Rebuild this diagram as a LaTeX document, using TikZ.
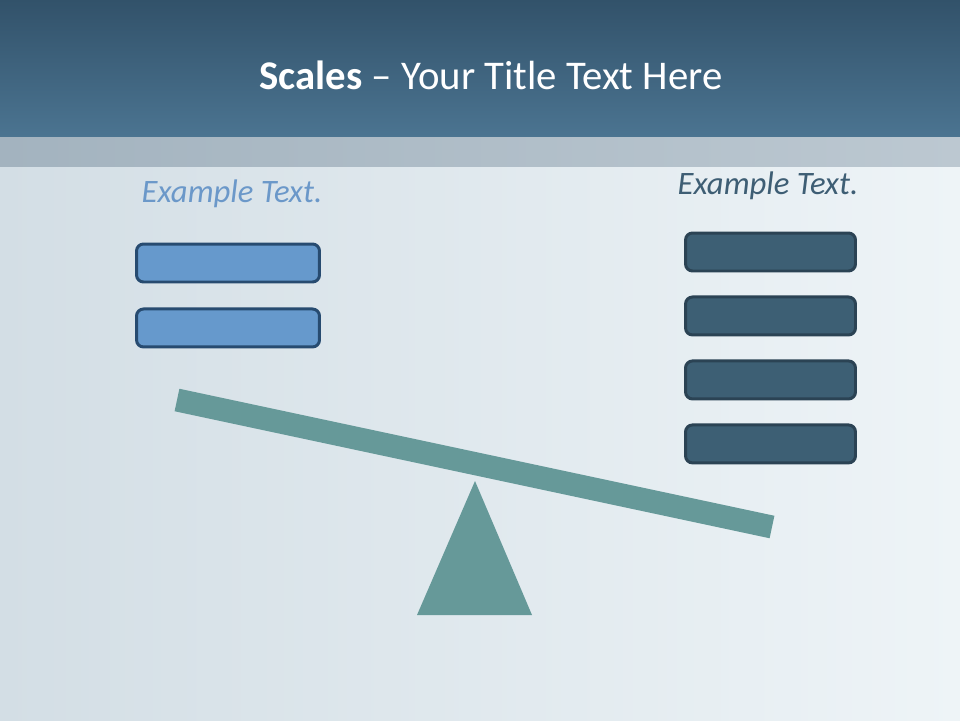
\documentclass[tikz,border=0pt]{standalone}
\usepackage{fontspec}
\setmainfont{Carlito}
\usetikzlibrary{positioning}

\definecolor{topdark}{HTML}{32526A}
\definecolor{toplight}{HTML}{4B7491}
\definecolor{greyl}{HTML}{A3B3BF}
\definecolor{greyr}{HTML}{BCC8D1}
\definecolor{bgleft}{HTML}{D3DEE5}
\definecolor{bgright}{HTML}{EEF4F7}
\definecolor{beamcol}{HTML}{669999}
\definecolor{lfill}{HTML}{6699CC}
\definecolor{ledge}{HTML}{274B70}
\definecolor{rfill}{HTML}{3D5F74}
\definecolor{redge}{HTML}{2B4354}
\definecolor{ltxt}{HTML}{6B98C9}
\definecolor{rtxt}{HTML}{3E5E74}

\tikzset{
  lbox/.style={draw=ledge, fill=lfill, line width=1.7pt, rounded corners=0.14cm,
    minimum width=3.66cm, minimum height=0.76cm, inner sep=0pt},
  rbox/.style={draw=redge, fill=rfill, line width=1.7pt, rounded corners=0.14cm,
    minimum width=3.4cm, minimum height=0.76cm, inner sep=0pt},
  sidetext/.style={font=\fontsize{18.6}{22}\selectfont\itshape, inner sep=0pt},
}

\begin{document}
\begin{tikzpicture}[x=0.02cm, y=-0.02cm]
        \useasboundingbox (0,0) rectangle (960,720);

        \shade[left color=bgleft, right color=bgright] (0,137) rectangle (960,720);
        \shade[top color=topdark, bottom color=toplight] (0,0) rectangle (960,137);
        \shade[left color=greyl, right color=greyr] (0,137) rectangle (960,166);

        \node[text=white, font=\fontsize{23.2}{28}\selectfont] (title) at (491,75)
            {\textbf{Scales} -- Your Title Text Here};

        \node[sidetext, text=ltxt] (lt) at (232,194) {Example Text.};
        \node[sidetext, text=rtxt] (rt) at (768,186) {Example Text.};

        \node[lbox] (l1) at (228,263) {};
        \node[lbox, below=0.48cm of l1] (l2) {};

        \node[rbox] (r1) at (770.5,252) {};
        \node[rbox, below=0.46cm of r1] (r2) {};
        \node[rbox, below=0.46cm of r2] (r3) {};
        \node[rbox, below=0.46cm of r3] (r4) {};

        \coordinate (apex) at (475,481);
        \coordinate (bl) at (417,615);
        \coordinate (br) at (532,615);
        \fill[beamcol] (apex) -- (br) -- (bl) -- cycle;

        \coordinate (b1) at (177,400);
        \coordinate (b2) at (772,527);
        \draw[beamcol, line width=0.46cm] (b1) -- (b2);

\end{tikzpicture}
\end{document}
